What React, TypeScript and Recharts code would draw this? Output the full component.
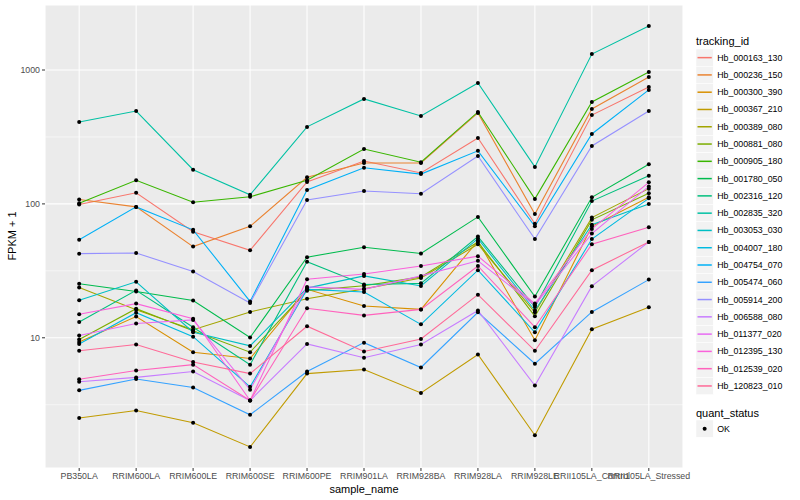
import React from "react";
import {
    LineChart,
    Line,
    XAxis,
    YAxis,
    CartesianGrid,
    ReferenceLine,
    Label,
} from "recharts";

const samples = [
    "PB350LA",
    "RRIM600LA",
    "RRIM600LE",
    "RRIM600SE",
    "RRIM600PE",
    "RRIM901LA",
    "RRIM928BA",
    "RRIM928LA",
    "RRIM928LE",
    "RRII105LA_Control",
    "RRII105LA_Stressed",
];

const trackingIds = [
    "Hb_000163_130",
    "Hb_000236_150",
    "Hb_000300_390",
    "Hb_000367_210",
    "Hb_000389_080",
    "Hb_000881_080",
    "Hb_000905_180",
    "Hb_001780_050",
    "Hb_002316_120",
    "Hb_002835_320",
    "Hb_003053_030",
    "Hb_004007_180",
    "Hb_004754_070",
    "Hb_005474_060",
    "Hb_005914_200",
    "Hb_006588_080",
    "Hb_011377_020",
    "Hb_012395_130",
    "Hb_012539_020",
    "Hb_120823_010",
];

// ggplot hue palette, 20 levels
const colors = [
    "#F8766D", "#EA8331", "#D89000", "#C09B00", "#A3A500",
    "#7CAE00", "#39B600", "#00BB4E", "#00BF7D", "#00C1A3",
    "#00BFC4", "#00BAE0", "#00B0F6", "#35A2FF", "#9590FF",
    "#C77CFF", "#E76BF3", "#FA62DB", "#FF62BC", "#FF6A98",
];

// FPKM + 1, one value per sample
const hb000163 = [99, 121, 62, 45, 146, 209, 170, 311, 71, 461, 746];
const hb000236 = [108, 95, 48, 68, 158, 202, 202, 478, 84, 512, 887];
const hb000300 = [9.3, 14.4, 7.8, 7.0, 23, 17.3, 16.3, 53, 9.6, 68, 112];
const hb000367 = [2.52, 2.86, 2.32, 1.53, 5.4, 5.8, 3.87, 7.5, 1.87, 11.6, 16.9];
const hb000389 = [23.7, 16.2, 11.5, 15.6, 19.6, 23.2, 28, 50, 15.5, 79, 130];
const hb000881 = [9.7, 16.5, 11.3, 7.8, 22.5, 24.5, 28.5, 52, 14.5, 76, 120];
const hb000905 = [101, 150, 103, 113, 150, 257, 205, 486, 109, 577, 966];
const hb001780 = [25.3, 22.2, 19.0, 10.05, 40, 47.5, 42.6, 80, 20.3, 112, 198];
const hb002316 = [13.1, 22.6, 12.0, 6.3, 37, 25, 25.5, 57, 17, 105, 162];
const hb002835 = [409, 494, 180, 117, 376, 608, 454, 800, 189, 1315, 2130];
const hb003053 = [19.1, 26.2, 11.0, 8.7, 23.5, 29, 24.4, 55, 16, 70, 100];
const hb004007 = [9.0, 15.4, 10.2, 4.3, 23, 22, 12.6, 32, 11, 54.6, 110];
const hb004754 = [54, 95, 64, 18.7, 127, 186, 167, 249, 68, 333, 710];
const hb005474 = [4.05, 4.92, 4.25, 2.66, 5.6, 9.2, 6.0, 15.5, 6.4, 15.6, 27.2];
const hb005914 = [42.5, 43, 31.3, 18.2, 107, 125, 119, 228, 54.6, 271, 494];
const hb006588 = [4.7, 5.06, 5.6, 3.4, 9.0, 7.1, 8.9, 16, 4.4, 24.3, 52];
const hb011377 = [10.4, 12.8, 13.6, 4.1, 24, 23, 29, 37.6, 17.5, 60, 135];
const hb012395 = [15.0, 18.0, 13.9, 3.4, 27.4, 30, 34.4, 40.7, 18, 65, 145];
const hb012539 = [4.9, 5.7, 6.3, 3.4, 16.6, 14.7, 16.3, 34.4, 12, 50, 67];
const hb120823 = [8.0, 8.9, 6.6, 5.4, 12.2, 7.9, 9.8, 21, 8.0, 32, 52];

const seriesValues = [
    hb000163, hb000236, hb000300, hb000367, hb000389,
    hb000881, hb000905, hb001780, hb002316, hb002835,
    hb003053, hb004007, hb004754, hb005474, hb005914,
    hb006588, hb011377, hb012395, hb012539, hb120823,
];

const yTicks = [10, 100, 1000];
const yMinor = [Math.pow(10, 0.5), Math.pow(10, 1.5), Math.pow(10, 2.5)];

const data = samples.map((s, i) => {
    const row: any = { idx: i, sample: s };
    trackingIds.forEach((id, k) => {
        row[id] = seriesValues[k][i];
    });
    return row;
});

// ggplot-like 5% expansion on the log scale
const allVals = seriesValues.flat();
const lo = Math.log10(Math.min(...allVals));
const hi = Math.log10(Math.max(...allVals));
const pad = (hi - lo) * 0.05;
const yDomain = [Math.pow(10, lo - pad), Math.pow(10, hi + pad)];

const FONT = "'Liberation Sans', Arial, Helvetica, sans-serif";
const KEY = 17.28;

// legend drawn as its own small svg on the right
const LegendPanel: React.FC = () => {
    const top0 = 49;
    const qTop = 420;
    return (
        <svg
            width={110}
            height={500}
            style={{ position: "absolute", left: 690, top: 0 }}
            fontFamily={FONT}
        >
            <text x={6} y={40.5} fontSize={11} dominantBaseline="central">
                tracking_id
            </text>
            {trackingIds.map((id, k) => {
                const y = top0 + k * KEY;
                return (
                    <g key={id}>
                        <rect
                            x={6}
                            y={y}
                            width={KEY}
                            height={KEY}
                            fill="#F2F2F2"
                            stroke="#FFFFFF"
                            strokeWidth={0.5}
                        />
                        <line
                            x1={7.5}
                            x2={6 + KEY - 1.5}
                            y1={y + KEY / 2}
                            y2={y + KEY / 2}
                            stroke={colors[k]}
                            strokeWidth={1.5}
                        />
                        <text
                            x={6 + KEY + 4}
                            y={y + KEY / 2}
                            fontSize={8.8}
                            dominantBaseline="central"
                        >
                            {id}
                        </text>
                    </g>
                );
            })}
            <text x={6} y={413} fontSize={11} dominantBaseline="central">
                quant_status
            </text>
            <rect
                x={6}
                y={qTop}
                width={KEY}
                height={KEY}
                fill="#F2F2F2"
                stroke="#FFFFFF"
                strokeWidth={0.5}
            />
            <circle cx={6 + KEY / 2} cy={qTop + KEY / 2} r={2} fill="#000" />
            <text
                x={6 + KEY + 4}
                y={qTop + KEY / 2}
                fontSize={8.8}
                dominantBaseline="central"
            >
                OK
            </text>
        </svg>
    );
};

const App: React.FC = () => {
    return (
        <div
            style={{
                position: "absolute",
                left: 0,
                top: 0,
                width: 800,
                height: 500,
                background: "#fff",
                fontFamily: FONT,
            }}
        >
            <LineChart
                width={800}
                height={500}
                data={data}
                margin={{ top: 5, right: 117, bottom: 0, left: 0 }}
                style={{ fontFamily: FONT }}
            >
                <CartesianGrid
                    fill="#EBEBEB"
                    stroke="#FFFFFF"
                    strokeWidth={1.07}
                />
                {yMinor.map((v) => (
                    <ReferenceLine
                        key={v}
                        y={v}
                        stroke="#FFFFFF"
                        strokeWidth={0.55}
                    />
                ))}
                <XAxis
                    type="number"
                    dataKey="idx"
                    domain={[-0.6, samples.length - 0.4]}
                    ticks={samples.map((_, i) => i)}
                    tickFormatter={(i: number) => samples[i]}
                    interval={0}
                    height={32}
                    axisLine={false}
                    tickSize={3}
                    tickMargin={2}
                    tickLine={{ stroke: "#333333" }}
                    tick={{ fill: "#4D4D4D", fontSize: 8.8 }}
                >
                    <Label
                        content={() => (
                            <text
                                x={364}
                                y={489}
                                textAnchor="middle"
                                dominantBaseline="central"
                                fontSize={11}
                                fill="#000"
                            >
                                sample_name
                            </text>
                        )}
                    />
                </XAxis>
                <YAxis
                    type="number"
                    scale="log"
                    domain={yDomain}
                    allowDataOverflow
                    ticks={yTicks}
                    width={45}
                    axisLine={false}
                    tickSize={3}
                    tickMargin={2}
                    tickLine={{ stroke: "#333333" }}
                    tick={{ fill: "#4D4D4D", fontSize: 8.8 }}
                >
                    <Label
                        content={() => (
                            <text
                                x={12}
                                y={236}
                                transform="rotate(-90 12 236)"
                                textAnchor="middle"
                                dominantBaseline="central"
                                fontSize={11}
                                fill="#000"
                            >
                                FPKM + 1
                            </text>
                        )}
                    />
                </YAxis>
                {trackingIds.map((id, k) => (
                    <Line
                        key={id}
                        dataKey={id}
                        stroke={colors[k]}
                        strokeWidth={1.07}
                        dot={false}
                        activeDot={false}
                        isAnimationActive={false}
                    />
                ))}
                {trackingIds.map((id) => (
                    <Line
                        key={id + "-pt"}
                        dataKey={id}
                        stroke="none"
                        dot={{ r: 2, fill: "#000", stroke: "none" }}
                        activeDot={false}
                        legendType="none"
                        isAnimationActive={false}
                    />
                ))}
            </LineChart>
            <LegendPanel />
        </div>
    );
};

export default App;
